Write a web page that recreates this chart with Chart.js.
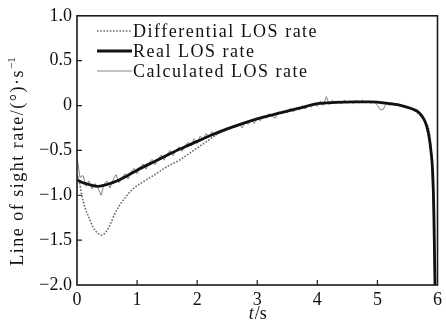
<!DOCTYPE html>
<html>
<head>
<meta charset="utf-8">
<script src="https://cdn.jsdelivr.net/npm/chart.js@4"></script>
<style>
  html, body { margin: 0; padding: 0; background: #fff; }
  #wrap { width: 446px; height: 331px; }
</style>
</head>
<body>
<div id="wrap"><canvas id="chart" width="446" height="331"></canvas></div>
<script>
// axis ticks
const xTicks = [0, 1, 2, 3, 4, 5, 6]
const yTicks = [-2.0, -1.5, -1.0, -0.5, 0, 0.5, 1.0]

// real LOS rate (smooth, thick black)
const realT = [0, 0.1, 0.2, 0.35, 0.5, 0.7, 1.0, 1.3, 1.6, 1.9, 2.2, 2.5, 2.8, 3.1, 3.4, 3.7, 4.0, 4.3, 4.6, 4.9, 5.2, 5.4, 5.55, 5.65, 5.72, 5.78, 5.82, 5.86, 5.89, 5.92, 5.94, 5.96]
const realY = [-0.83, -0.86, -0.88, -0.90, -0.88, -0.83, -0.72, -0.62, -0.52, -0.43, -0.34, -0.26, -0.19, -0.13, -0.08, -0.03, 0.02, 0.035, 0.04, 0.04, 0.02, 0.0, -0.03, -0.06, -0.10, -0.16, -0.23, -0.35, -0.50, -0.75, -1.2, -2.1]

// differential LOS rate (dotted)
const diffT = [0, 0.04, 0.08, 0.13, 0.2, 0.27, 0.34, 0.41, 0.48, 0.55, 0.62, 0.7, 0.8, 0.93, 1.1, 1.32, 1.5, 1.7, 1.9, 2.14, 2.36, 2.6, 3.0, 3.5, 4.0, 4.5, 5.0, 5.5, 5.8, 5.9, 5.96]
const diffY = [-0.76, -0.85, -1.0, -1.13, -1.25, -1.36, -1.42, -1.445, -1.41, -1.33, -1.22, -1.12, -1.03, -0.93, -0.85, -0.76, -0.68, -0.61, -0.52, -0.41, -0.31, -0.245, -0.155, -0.065, 0.015, 0.04, 0.035, -0.02, -0.19, -0.55, -2.1]

// calculated LOS rate (noisy, thin grey)
const calcT = [
  0, 0.05, 0.1, 0.15, 0.2, 0.25, 0.3, 0.35, 0.4, 0.45, 0.5, 0.55, 0.6, 0.65, 0.7, 0.75, 0.8, 0.85, 0.9, 0.95,
  1.0, 1.05, 1.1, 1.15, 1.2, 1.25, 1.3, 1.35, 1.4, 1.45, 1.5, 1.55, 1.6, 1.65, 1.7, 1.75, 1.8, 1.85, 1.9, 1.95,
  2.0, 2.05, 2.1, 2.15, 2.2, 2.25, 2.3, 2.35, 2.4, 2.45, 2.5, 2.55, 2.6, 2.65, 2.7, 2.75, 2.8, 2.85, 2.9, 2.95,
  3.0, 3.05, 3.1, 3.15, 3.2, 3.25, 3.3, 3.35, 3.4, 3.45, 3.5, 3.55, 3.6, 3.65, 3.7, 3.75, 3.8, 3.85, 3.9, 3.95,
  4.0, 4.05, 4.1, 4.15, 4.2, 4.25, 4.3, 4.35, 4.4, 4.45, 4.5, 4.55, 4.6, 4.65, 4.7, 4.75, 4.8, 4.85, 4.9, 4.95,
  5.0, 5.05, 5.1, 5.15, 5.2, 5.25, 5.3, 5.35, 5.4, 5.45, 5.5, 5.55, 5.6, 5.65, 5.7, 5.75, 5.8, 5.85, 5.9, 5.95, 5.97,
]
const calcY = [
  -0.58, -0.80, -0.78, -0.90, -0.84, -0.93, -0.87, -0.92, -1.00, -0.88, -0.84, -0.92, -0.83, -0.77, -0.86, -0.80, -0.76, -0.82, -0.74, -0.70,
  -0.76, -0.69, -0.65, -0.71, -0.64, -0.60, -0.66, -0.60, -0.55, -0.61, -0.54, -0.50, -0.56, -0.50, -0.46, -0.51, -0.45, -0.41, -0.45, -0.37,
  -0.42, -0.34, -0.38, -0.31, -0.35, -0.29, -0.33, -0.30, -0.27, -0.29, -0.25, -0.26, -0.22, -0.24, -0.21, -0.25, -0.18, -0.21, -0.16, -0.20,
  -0.14, -0.17, -0.12, -0.14, -0.09, -0.12, -0.14, -0.07, -0.09, -0.06, -0.08, -0.03, -0.07, -0.02, -0.05, 0.00, -0.04, 0.01, -0.02, 0.03,
  -0.01, 0.05, 0.00, 0.10, 0.01, 0.06, 0.02, 0.05, 0.02, 0.06, 0.03, 0.05, 0.02, 0.06, 0.03, 0.06, 0.03, 0.05, 0.02, 0.05,
  0.00, -0.05, -0.04, 0.03, 0.01, 0.03, 0.00, 0.02, -0.01, 0.00, -0.03, -0.02, -0.05, -0.04, -0.07, -0.12, -0.18, -0.33, -0.56, -1.5, -2.1,
]

const legendOrder = ['Differential LOS rate', 'Real LOS rate', 'Calculated LOS rate']
const serif = '"Liberation Serif", "Times New Roman", serif'

const toXY = (ts, ys) => ts.map((t, i) => ({ x: t, y: ys[i] }))

const decor = {
  id: 'decor',
  afterDraw(chart) {
    const { ctx, chartArea: a, scales: { x, y } } = chart
    ctx.save()
    // frame + inward ticks
    ctx.strokeStyle = '#1a1a1a'
    ctx.lineWidth = 1.6
    ctx.strokeRect(a.left, a.top, a.right - a.left, a.bottom - a.top)
    ctx.lineWidth = 1.2
    ctx.beginPath()
    xTicks.slice(1, -1).forEach(v => {
      const px = x.getPixelForValue(v)
      ctx.moveTo(px, a.bottom); ctx.lineTo(px, a.bottom - 5)
    })
    yTicks.slice(1, -1).forEach(v => {
      const py = y.getPixelForValue(v)
      ctx.moveTo(a.left, py); ctx.lineTo(a.left + 5, py)
    })
    ctx.stroke()

    // legend
    ctx.letterSpacing = '1.5px'
    ctx.font = '18px ' + serif
    ctx.textBaseline = 'middle'
    ctx.fillStyle = '#111'
    legendOrder.forEach((label, i) => {
      const ds = chart.data.datasets.find(d => d.label === label)
      const ly = 31 + i * 20
      ctx.save()
      ctx.strokeStyle = ds.borderColor
      ctx.lineWidth = ds.borderWidth
      ctx.setLineDash(ds.borderDash || [])
      ctx.beginPath(); ctx.moveTo(97, ly); ctx.lineTo(132, ly); ctx.stroke()
      ctx.restore()
      ctx.fillText(label, 133, ly + 1)
    })

    // x title: italic t + /s
    ctx.letterSpacing = '0px'
    ctx.textAlign = 'left'
    ctx.font = 'italic 18px ' + serif
    const wt = ctx.measureText('t').width
    ctx.font = '18px ' + serif
    const ws = ctx.measureText('/s').width
    const cx = (a.left + a.right) / 2 - (wt + ws) / 2
    ctx.font = 'italic 18px ' + serif
    ctx.fillText('t', cx, 314)
    ctx.font = '18px ' + serif
    ctx.fillText('/s', cx + wt + 1, 314)

    // y title, rotated
    ctx.translate(18, 160)
    ctx.rotate(-Math.PI / 2)
    ctx.letterSpacing = '1.5px'
    const main = 'Line of sight rate/(°)·s'
    ctx.font = '18px ' + serif
    const wm = ctx.measureText(main).width
    ctx.font = '11px ' + serif
    const wsup = ctx.measureText('−1').width
    const sx = -(wm + wsup) / 2
    ctx.font = '18px ' + serif
    ctx.fillText(main, sx, 0)
    ctx.font = '11px ' + serif
    ctx.letterSpacing = '0px'
    ctx.fillText('−1', sx + wm, -6)
    ctx.restore()
  }
}

new Chart(document.getElementById('chart'), {
  type: 'line',
  data: {
    datasets: [
      {
        label:       'Real LOS rate',
        data:        toXY(realT, realY),
        borderColor: '#111',
        borderWidth: 2.8,
        cubicInterpolationMode: 'monotone',
        pointRadius: 0,
        order:       0,
      },
      {
        label:       'Calculated LOS rate',
        data:        toXY(calcT, calcY),
        borderColor: '#858585',
        borderWidth: 1,
        tension:     0,
        pointRadius: 0,
        order:       1,
      },
      {
        label:       'Differential LOS rate',
        data:        toXY(diffT, diffY),
        borderColor: '#6a6a6a',
        borderWidth: 1.6,
        borderDash:  [1.6, 1.6],
        cubicInterpolationMode: 'monotone',
        pointRadius: 0,
        order:       2,
      },
    ],
  },
  options: {
    responsive: false,
    animation: false,
    layout: { padding: { left: 0, right: 5, top: 15, bottom: 0 } },
    plugins: { legend: { display: false }, tooltip: { enabled: false } },
    scales: {
      x: {
        type: 'linear', min: 0, max: 6,
        afterBuildTicks: s => { s.ticks = xTicks.map(v => ({ value: v })) },
        afterFit: s => { s.height = 46 },
        ticks: { color: '#111', font: { family: serif, size: 18 }, padding: 4, callback: v => String(v) },
        grid: { display: false, drawTicks: false },
        border: { display: false },
      },
      y: {
        type: 'linear', min: -2, max: 1,
        afterBuildTicks: s => { s.ticks = yTicks.map(v => ({ value: v })) },
        afterFit: s => { s.width = 77 },
        ticks: {
          color: '#111', font: { family: serif, size: 18 }, padding: 5,
          callback: v => v === 0 ? '0' : v.toFixed(1).replace('-', '−'),
        },
        grid: { display: false, drawTicks: false },
        border: { display: false },
      },
    },
  },
  plugins: [decor],
})
</script>
</body>
</html>
